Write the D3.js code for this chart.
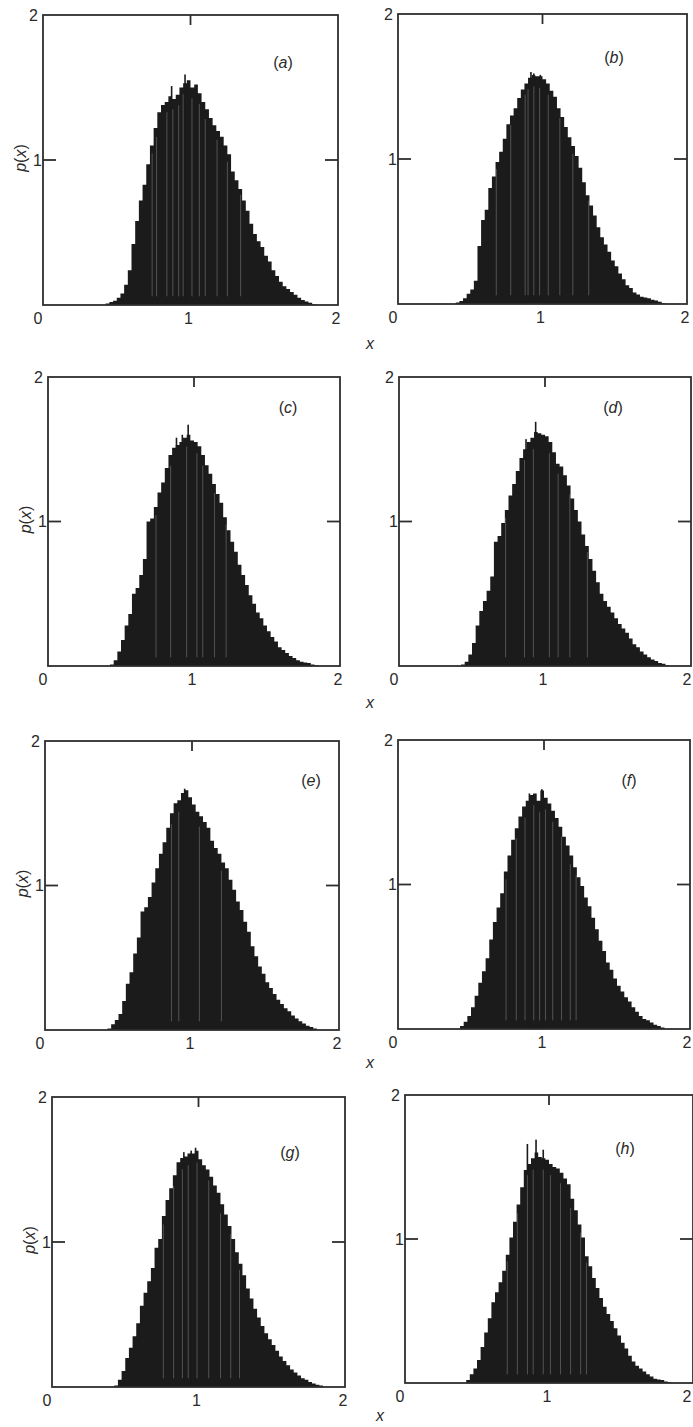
<!DOCTYPE html>
<html>
<head>
<meta charset="utf-8">
<script src="https://cdn.jsdelivr.net/npm/d3@7"></script>
<style>
  html, body { margin: 0; padding: 0; background: #fff; }
  svg { display: block; }
  text { font-family: "Liberation Sans", Arial, sans-serif; fill: #2a2a2a; }
</style>
</head>
<body>
<div id="chart"></div>
<script>
// bin left edges (x) shared by all eight histograms
var BIN_X = [
  0.400, 0.425, 0.450, 0.475, 0.500, 0.525, 0.550, 0.575, 0.600, 0.625,
  0.650, 0.675, 0.700, 0.725, 0.750, 0.775, 0.800, 0.825, 0.850, 0.875,
  0.900, 0.925, 0.950, 0.975, 1.000, 1.025, 1.050, 1.075, 1.100, 1.125,
  1.150, 1.175, 1.200, 1.225, 1.250, 1.275, 1.300, 1.325, 1.350, 1.375,
  1.400, 1.425, 1.450, 1.475, 1.500, 1.525, 1.550, 1.575, 1.600, 1.625,
  1.650, 1.675, 1.700, 1.725, 1.750, 1.775, 1.800, 1.825, 1.850
];
var X_TICKS = [0, 1, 2];
var Y_TICKS = [1, 2];
var PANEL_NAMES = ["a", "b", "c", "d", "e", "f", "g", "h"];

// p(x), one value per bin
var P_A = [
  0, 0.01, 0.02, 0.03, 0.05, 0.08, 0.14, 0.24, 0.42, 0.58,
  0.72, 0.83, 0.97, 1.10, 1.22, 1.33, 1.38, 1.40, 1.44, 1.42,
  1.45, 1.50, 1.53, 1.55, 1.50, 1.52, 1.46, 1.40, 1.35, 1.29,
  1.24, 1.20, 1.16, 1.10, 1.04, 0.92, 0.86, 0.80, 0.72, 0.65,
  0.56, 0.49, 0.44, 0.40, 0.34, 0.30, 0.24, 0.20, 0.16, 0.13,
  0.11, 0.09, 0.07, 0.05, 0.035, 0.025, 0.015, 0.005, 0
];
var P_B = [
  0.01, 0.02, 0.04, 0.07, 0.10, 0.16, 0.40, 0.58, 0.65, 0.80,
  0.88, 0.98, 1.05, 1.14, 1.24, 1.30, 1.35, 1.42, 1.48, 1.52,
  1.56, 1.58, 1.57, 1.57, 1.55, 1.52, 1.47, 1.43, 1.35, 1.29,
  1.22, 1.15, 1.09, 1.02, 0.94, 0.84, 0.75, 0.68, 0.61, 0.53,
  0.46, 0.41, 0.36, 0.30, 0.26, 0.21, 0.17, 0.13, 0.11, 0.08,
  0.065, 0.05, 0.045, 0.04, 0.03, 0.025, 0.015, 0.005, 0
];
var P_C = [
  0, 0.01, 0.04, 0.10, 0.18, 0.28, 0.36, 0.50, 0.54, 0.63,
  0.74, 1.00, 1.02, 1.10, 1.20, 1.27, 1.37, 1.46, 1.51, 1.53,
  1.55, 1.58, 1.60, 1.56, 1.55, 1.52, 1.46, 1.39, 1.33, 1.26,
  1.19, 1.13, 1.03, 0.94, 0.86, 0.79, 0.70, 0.63, 0.56, 0.49,
  0.43, 0.37, 0.33, 0.28, 0.24, 0.20, 0.17, 0.13, 0.11, 0.09,
  0.07, 0.055, 0.04, 0.03, 0.025, 0.02, 0.01, 0.005, 0
];
var P_D = [
  0, 0.01, 0.03, 0.08, 0.16, 0.28, 0.38, 0.45, 0.52, 0.62,
  0.86, 0.90, 0.99, 1.08, 1.18, 1.26, 1.35, 1.44, 1.50, 1.55,
  1.58, 1.62, 1.61, 1.60, 1.59, 1.55, 1.48, 1.40, 1.38, 1.32,
  1.25, 1.16, 1.08, 1.00, 0.91, 0.83, 0.74, 0.66, 0.58, 0.50,
  0.45, 0.41, 0.37, 0.33, 0.29, 0.26, 0.23, 0.19, 0.15, 0.13,
  0.10, 0.08, 0.06, 0.045, 0.035, 0.02, 0.015, 0.005, 0
];
var P_E = [
  0, 0.01, 0.04, 0.07, 0.11, 0.20, 0.32, 0.40, 0.53, 0.64,
  0.82, 0.85, 0.92, 1.02, 1.12, 1.22, 1.30, 1.40, 1.50, 1.57,
  1.59, 1.64, 1.66, 1.61, 1.56, 1.51, 1.48, 1.44, 1.40, 1.31,
  1.26, 1.22, 1.16, 1.12, 1.04, 0.97, 0.89, 0.83, 0.75, 0.68,
  0.58, 0.51, 0.44, 0.39, 0.33, 0.29, 0.25, 0.21, 0.18, 0.15,
  0.13, 0.10, 0.08, 0.06, 0.045, 0.03, 0.02, 0.01, 0
];
var P_F = [
  0, 0.02, 0.05, 0.09, 0.15, 0.23, 0.32, 0.40, 0.49, 0.62,
  0.74, 0.84, 0.94, 1.09, 1.20, 1.31, 1.39, 1.47, 1.54, 1.58,
  1.62, 1.63, 1.58, 1.65, 1.60, 1.56, 1.51, 1.46, 1.40, 1.33,
  1.27, 1.20, 1.12, 1.05, 0.99, 0.91, 0.85, 0.77, 0.69, 0.61,
  0.54, 0.46, 0.41, 0.35, 0.30, 0.26, 0.22, 0.19, 0.15, 0.12,
  0.09, 0.07, 0.06, 0.045, 0.03, 0.02, 0.01, 0, 0
];
var P_G = [
  0, 0.01, 0.05, 0.11, 0.20, 0.27, 0.35, 0.44, 0.56, 0.65,
  0.73, 0.82, 0.96, 1.02, 1.18, 1.29, 1.37, 1.46, 1.55, 1.58,
  1.59, 1.61, 1.61, 1.63, 1.57, 1.53, 1.50, 1.45, 1.39, 1.34,
  1.26, 1.19, 1.11, 1.02, 0.93, 0.85, 0.77, 0.68, 0.61, 0.54,
  0.48, 0.42, 0.37, 0.33, 0.29, 0.25, 0.21, 0.18, 0.15, 0.12,
  0.10, 0.08, 0.06, 0.05, 0.035, 0.025, 0.015, 0.01, 0
];
var P_H = [
  0, 0.02, 0.06, 0.10, 0.16, 0.25, 0.35, 0.45, 0.56, 0.63,
  0.70, 0.78, 0.89, 1.01, 1.12, 1.24, 1.36, 1.48, 1.52, 1.56,
  1.60, 1.57, 1.56, 1.55, 1.52, 1.50, 1.49, 1.46, 1.42, 1.38,
  1.28, 1.20, 1.10, 1.01, 0.88, 0.81, 0.73, 0.66, 0.59, 0.53,
  0.48, 0.43, 0.38, 0.33, 0.28, 0.24, 0.19, 0.15, 0.12, 0.10,
  0.08, 0.06, 0.045, 0.03, 0.025, 0.02, 0.01, 0.005, 0
];
var SERIES = [P_A, P_B, P_C, P_D, P_E, P_F, P_G, P_H];

// narrow single-channel spikes near the peak: [x, p]
var SPIKES = [
  [[0.872, 1.51], [0.963, 1.59]],
  [[0.92, 1.60], [0.94, 1.59], [0.985, 1.58]],
  [[0.88, 1.58], [0.92, 1.60], [0.96, 1.67]],
  [[0.87, 1.57], [0.936, 1.69]],
  [[0.95, 1.67]],
  [[0.90, 1.63], [0.985, 1.66]],
  [[0.90, 1.62], [0.95, 1.63], [0.98, 1.65]],
  [[0.85, 1.66], [0.91, 1.69], [0.96, 1.62]]
];
// light vertical streaks inside the filled histograms (x)
var STREAKS = [
  [0.74, 0.77, 0.84, 0.88, 0.92, 0.95, 1.01, 1.06, 1.10, 1.18, 1.25, 1.34],
  [0.68, 0.78, 0.88, 0.90, 0.94, 0.98, 1.04, 1.12, 1.21, 1.32],
  [0.74, 0.84, 0.95, 1.02, 1.06, 1.14, 1.22],
  [0.73, 0.86, 0.92, 1.03, 1.09, 1.17, 1.29],
  [0.86, 0.91, 1.05, 1.20],
  [0.74, 0.81, 0.87, 0.93, 0.97, 1.01, 1.06, 1.12, 1.18, 1.22],
  [0.76, 0.83, 0.89, 0.93, 0.99, 1.07, 1.15, 1.22, 1.28],
  [0.71, 0.78, 0.85, 0.89, 0.96, 1.01, 1.08, 1.15, 1.22, 1.26]
];

// ---- layout (page pixels) ----
var W = 693, H = 1427;
var FRAMES = [
  { l: 43,  t: 15,   w: 295, h: 290, lab: [240, 47], ylab: true },
  { l: 398, t: 14,   w: 289, h: 290, lab: [216, 43] },
  { l: 48,  t: 377,  w: 292, h: 289, lab: [240, 30], ylab: true },
  { l: 399, t: 377,  w: 292, h: 289, lab: [214, 30] },
  { l: 45,  t: 741,  w: 294, h: 289, lab: [266, 39], ylab: true },
  { l: 398, t: 740,  w: 292, h: 289, lab: [231, 40] },
  { l: 52,  t: 1097, w: 293, h: 290, lab: [238, 55], ylab: true },
  { l: 405, t: 1095, w: 288, h: 288, lab: [220, 53] }
];
var XLAB_POS = [[370, 343], [370, 702], [370, 1062], [380, 1415]];
var INK = "#1b1b1b", LINE = "#2e2e2e", FS = "16px";

var svg = d3.select("#chart").append("svg").attr("width", W).attr("height", H);
svg.append("rect").attr("width", W).attr("height", H).attr("fill", "#fff");
var binW = BIN_X[1] - BIN_X[0];

function panel(i) {
  var fr = FRAMES[i], vals = SERIES[i];
  var g = svg.append("g").attr("transform", "translate(" + fr.l + "," + fr.t + ")");
  var x = d3.scaleLinear().domain([0, 2]).range([0, fr.w]);
  var y = d3.scaleLinear().domain([0, 2]).range([fr.h, 0]);

  var pts = vals.map(function (v, k) { return { x: BIN_X[k], v: v }; });
  pts.push({ x: BIN_X[vals.length - 1] + binW, v: 0 });
  var area = d3.area().curve(d3.curveStepAfter)
    .x(function (d) { return x(d.x); }).y0(y(0)).y1(function (d) { return y(d.v); });
  g.append("path").attr("d", area(pts)).attr("fill", INK);

  function valueAt(xv) {
    var k = Math.floor((xv - BIN_X[0]) / binW);
    return vals[Math.max(0, Math.min(vals.length - 1, k))];
  }
  g.selectAll(".spk").data(SPIKES[i]).enter().append("rect").attr("class", "spk")
    .attr("x", function (d) { return x(d[0]) - 0.8; }).attr("width", 1.6)
    .attr("y", function (d) { return y(d[1]); })
    .attr("height", function (d) { return y(0) - y(d[1]); }).attr("fill", INK);
  g.selectAll(".stk").data(STREAKS[i]).enter().append("line").attr("class", "stk")
    .attr("x1", function (d) { return x(d); }).attr("x2", function (d) { return x(d); })
    .attr("y1", function (d) { return y(valueAt(d) * 0.95); }).attr("y2", y(0.06))
    .attr("stroke", "#fff").attr("stroke-opacity", 0.28).attr("stroke-width", 0.9);

  // frame and inward ticks
  g.append("rect").attr("width", fr.w).attr("height", fr.h)
    .attr("fill", "none").attr("stroke", LINE).attr("stroke-width", 1.8);
  g.append("line").attr("x1", x(1)).attr("x2", x(1)).attr("y1", 0).attr("y2", 10)
    .attr("stroke", LINE).attr("stroke-width", 1.8);
  g.append("line").attr("x1", 0).attr("x2", 13).attr("y1", y(1)).attr("y2", y(1))
    .attr("stroke", LINE).attr("stroke-width", 1.8);
  g.append("line").attr("x1", fr.w - 13).attr("x2", fr.w).attr("y1", y(1)).attr("y2", y(1))
    .attr("stroke", LINE).attr("stroke-width", 1.8);

  // tick labels (the right-hand "2" is kept inside the page)
  var maxX = W - fr.l - 6;
  g.selectAll(".xt").data(X_TICKS).enter().append("text").attr("class", "xt")
    .attr("x", function (d) { return Math.min(maxX, x(d) + (d === 0 ? -5 : -2)); })
    .attr("y", fr.h + 19).attr("text-anchor", "middle").style("font-size", FS)
    .text(function (d) { return d; });
  g.selectAll(".yt").data(Y_TICKS).enter().append("text").attr("class", "yt")
    .attr("x", function (d) { return d === 2 ? -5 : -1; })
    .attr("y", function (d) { return y(d); }).attr("dy", "0.36em")
    .attr("text-anchor", "end").style("font-size", FS)
    .text(function (d) { return d; });

  // panel letter
  var lab = g.append("text").attr("x", fr.lab[0]).attr("y", fr.lab[1]).attr("dy", "0.36em")
    .attr("text-anchor", "middle").style("font-size", FS);
  lab.append("tspan").text("(");
  lab.append("tspan").style("font-style", "italic").text(PANEL_NAMES[i]);
  lab.append("tspan").text(")");

  if (fr.ylab) {
    var yl = g.append("text").attr("transform", "translate(-17," + (y(1) - 2) + ") rotate(-90)")
      .attr("text-anchor", "middle").style("font-size", FS);
    yl.append("tspan").style("font-style", "italic").text("p");
    yl.append("tspan").text("(");
    yl.append("tspan").style("font-style", "italic").text("x");
    yl.append("tspan").text(")");
  }
}

for (var i = 0; i < SERIES.length; i++) panel(i);

svg.selectAll(".xlab").data(XLAB_POS).enter().append("text").attr("class", "xlab")
  .attr("x", function (d) { return d[0]; }).attr("y", function (d) { return d[1]; })
  .attr("dy", "0.36em").attr("text-anchor", "middle")
  .style("font-size", FS).style("font-style", "italic").text("x");
</script>
</body>
</html>
